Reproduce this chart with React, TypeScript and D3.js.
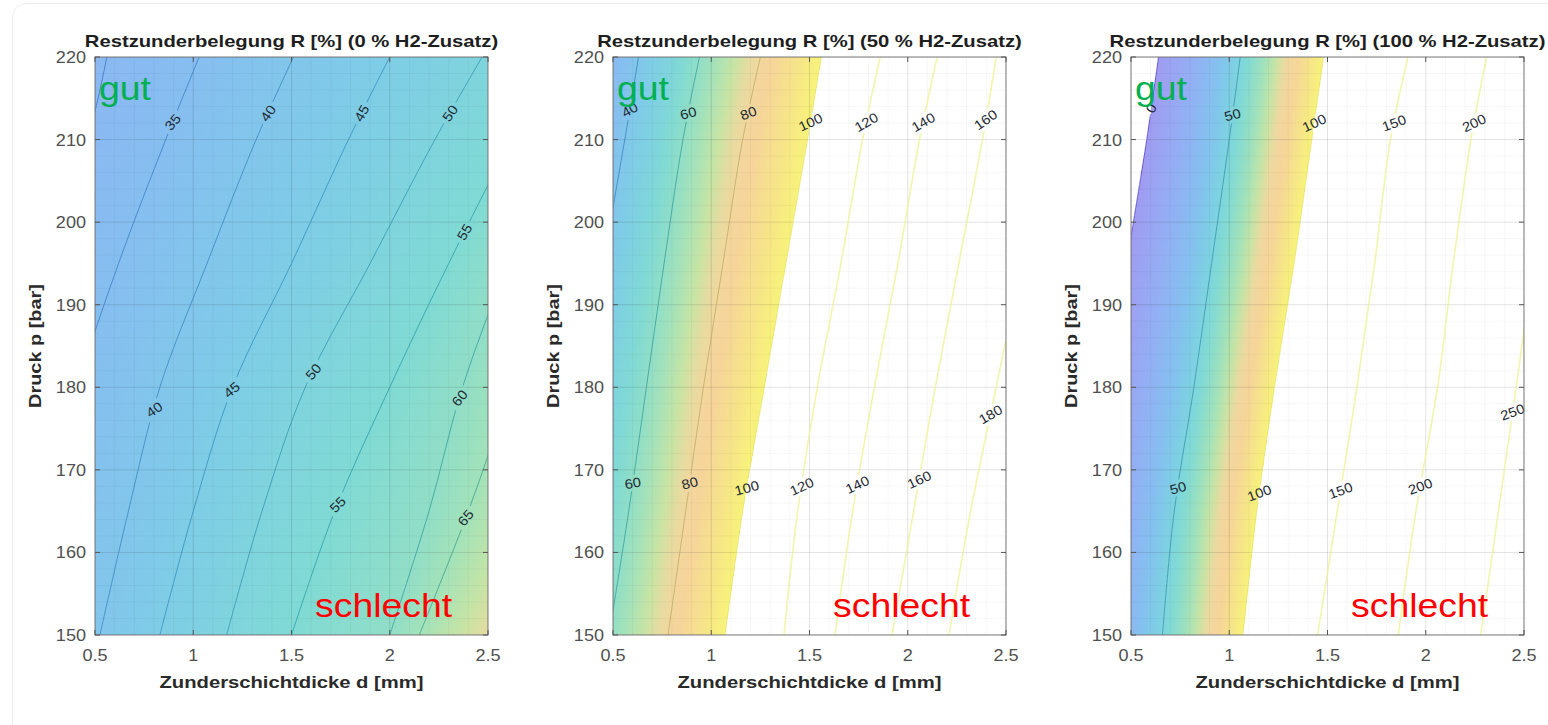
import React from "react";
import * as d3 from "d3";

const pressureSamples = [150, 165, 180, 195, 210, 220];
const thicknessTicks = [0.5, 1, 1.5, 2, 2.5];
const pressureTicks = [150, 160, 170, 180, 190, 200, 210, 220];

const titles = [
  "Restzunderbelegung R [%] (0 % H2-Zusatz)",
  "Restzunderbelegung R [%] (50 % H2-Zusatz)",
  "Restzunderbelegung R [%] (100 % H2-Zusatz)",
];

// 0 % H2: contour levels and thickness d [mm] of each level at pressureSamples
const levelsH0 = [30, 35, 40, 45, 50, 55, 60, 65];
const linesH0 = [
  [-0.5, -0.3, -0.05, 0.2, 0.46, 0.56],
  [0.1, 0.25, 0.41, 0.62, 0.86, 1.03],
  [0.525, 0.67, 0.83, 1.07, 1.32, 1.51],
  [0.83, 1.0, 1.2, 1.5, 1.79, 2.0],
  [1.17, 1.35, 1.57, 1.9, 2.23, 2.47],
  [1.5, 1.72, 2.0, 2.3, 2.62, 2.85],
  [2.0, 2.2, 2.37, 2.6, 2.85, 3.05],
  [2.15, 2.4, 2.62, 2.85, 3.1, 3.3],
];
// [level, pressure, angle]
const labelsH0 = [
  [35, 212.1, -50], [40, 213.2, -55], [45, 213.2, -60], [50, 213.2, -55], [55, 198.8, -60],
  [40, 177.3, -35], [45, 179.7, -40], [50, 181.9, -50], [55, 165.8, -45], [60, 178.7, -50], [65, 164.2, -50],
];

// 50 % H2
const levelsH50 = [40, 60, 80, 100, 120, 140, 160, 180];
const linesH50 = [
  [0.12, 0.23, 0.34, 0.45, 0.56, 0.63],
  [0.48, 0.58, 0.67, 0.76, 0.856, 0.94],
  [0.78, 0.87, 0.96, 1.06, 1.16, 1.25],
  [1.07, 1.16, 1.27, 1.38, 1.49, 1.56],
  [1.37, 1.44, 1.54, 1.66, 1.77, 1.86],
  [1.63, 1.72, 1.83, 1.95, 2.06, 2.15],
  [1.92, 2.03, 2.14, 2.26, 2.38, 2.45],
  [2.21, 2.32, 2.45, 2.58, 2.7, 2.78],
];
const labelsH50 = [
  [40, 213.6, -30], [60, 213.2, -15], [80, 213.2, -20], [100, 212.1, -25], [120, 212.1, -30], [140, 212.1, -30], [160, 212.4, -35],
  [60, 168.4, -10], [80, 168.4, -15], [100, 167.8, -15], [120, 168, -25], [140, 168.2, -25], [160, 168.8, -25], [180, 176.7, -30],
];

// 100 % H2
const levelsH100 = [0, 50, 100, 150, 200, 250];
const linesH100 = [
  [0.24, 0.32, 0.4, 0.48, 0.58, 0.64],
  [0.66, 0.72, 0.82, 0.91, 1.0, 1.056],
  [1.07, 1.14, 1.23, 1.33, 1.42, 1.48],
  [1.45, 1.55, 1.65, 1.74, 1.82, 1.91],
  [1.86, 1.95, 2.06, 2.14, 2.23, 2.31],
  [2.28, 2.37, 2.46, 2.55, 2.66, 2.75],
];
const labelsH100 = [
  [0, 213.8, -60], [50, 213, -15], [100, 212, -25], [150, 212, -20], [200, 212, -25],
  [50, 167.8, -15], [100, 167.2, -20], [150, 167.5, -20], [200, 168, -20], [250, 177, -20],
];

const panels = [
  { title: titles[0], levels: levelsH0, lines: linesH0, labels: labelsH0 },
  { title: titles[1], levels: levelsH50, lines: linesH50, labels: labelsH50 },
  { title: titles[2], levels: levelsH100, lines: linesH100, labels: labelsH100 },
];

const W = 1548;
const H = 725;
const FONT = "'Liberation Sans', Arial, Helvetica, sans-serif";
const plotLeft = [95, 613, 1131];
const plotW = 393;
const plotTop = 57;
const plotBottom = 635;
const ROW = 3;

const fillRamp = d3
  .scaleLinear<string>()
  .domain([0, 20, 35, 45, 55, 65, 72, 78, 84, 92, 100])
  .range(["#a09cf1", "#94aef4", "#86bef0", "#7ecde6", "#80dad4", "#a2e2ba", "#c8e4a4", "#f0d8a0", "#f6d49a", "#f6e38a", "#f7f37a"])
  .interpolate(d3.interpolateRgb)
  .clamp(true);

const lineRamp = d3
  .scaleLinear<string>()
  .domain([0, 30, 45, 55, 65, 75, 85, 100])
  .range(["#5a48c8", "#3a78c8", "#3a8fba", "#2f9eaa", "#3aa290", "#a0b060", "#d8aa6a", "#e8e470"])
  .interpolate(d3.interpolateRgb)
  .clamp(true);

// piecewise linear lookup, extrapolating with the end segments
function interpAt(xs: number[], ys: number[], v: number) {
  let i = 0;
  while (i < xs.length - 2 && v > xs[i + 1]) i++;
  const t = (v - xs[i]) / (xs[i + 1] - xs[i]);
  return ys[i] + t * (ys[i + 1] - ys[i]);
}

function Txt({ x, y, sx = 1.13, rot = 0, anchor = "middle", size = 16, weight = "normal", fill = "#4a4a4a", baseline, children }: any) {
  return (
    <text
      transform={`translate(${x},${y}) rotate(${rot}) scale(${sx},1)`}
      textAnchor={anchor}
      fontSize={size}
      fontWeight={weight}
      fill={fill}
      dominantBaseline={baseline}
    >
      {children}
    </text>
  );
}

function Panel({ idx, title, levels, lines, labels }: any) {
  const left = plotLeft[idx];
  const x = d3.scaleLinear().domain([0.5, 2.5]).range([left, left + plotW]);
  const y = d3.scaleLinear().domain([150, 220]).range([plotBottom, plotTop]);
  const clipId = `clip${idx}`;
  const maskId = `mask${idx}`;

  // colour rows: one horizontal gradient per strip of pressure
  const rows: { y: number; stops: { off: number; color: string }[] }[] = [];
  for (let py = plotTop; py < plotBottom; py += ROW) {
    const p = y.invert(py + ROW / 2);
    const ds = lines.map((l: number[]) => interpAt(pressureSamples, l, p));
    const valueAt = (d: number) => interpAt(ds, levels, d);
    const pts = [{ d: 0.5, v: valueAt(0.5) }];
    ds.forEach((dd: number, k: number) => {
      if (dd > 0.5 && dd < 2.5) pts.push({ d: dd, v: levels[k] });
    });
    pts.push({ d: 2.5, v: valueAt(2.5) });
    const stops: { off: number; color: string }[] = [];
    for (let k = 0; k < pts.length - 1; k++) {
      const a = pts[k];
      const b = pts[k + 1];
      const white = Math.min(a.v, b.v) >= 100 || Math.max(a.v, b.v) <= 0;
      const n = white ? 1 : Math.max(1, Math.ceil(Math.abs(b.v - a.v) / 4));
      for (let i = 0; i <= n; i++) {
        const t = i / n;
        const d = a.d + t * (b.d - a.d);
        const v = a.v + t * (b.v - a.v);
        stops.push({ off: (d - 0.5) / 2, color: white ? "#ffffff" : fillRamp(v) });
      }
    }
    rows.push({ y: py, stops });
  }

  const line = d3
    .line<[number, number]>()
    .x((d) => x(d[0]))
    .y((d) => y(d[1]))
    .curve(d3.curveCatmullRom.alpha(0.5));

  const labelSpots = labels.map(([level, p, angle]: number[]) => {
    const k = levels.indexOf(level);
    const d = interpAt(pressureSamples, lines[k], p);
    return { level, cx: x(d), cy: y(p), angle };
  });

  const minorX = d3.range(0.5, 2.5001, 0.1);
  const minorY = d3.range(150, 220.001, 2);
  const cx = left + plotW / 2;

  return (
    <g>
      <defs>
        <clipPath id={clipId}>
          <rect x={left} y={plotTop} width={plotW} height={plotBottom - plotTop} />
        </clipPath>
        <mask id={maskId} maskUnits="userSpaceOnUse" x={0} y={0} width={W} height={H}>
          <rect x={0} y={0} width={W} height={H} fill="white" />
          {labelSpots.map((s: any, i: number) => {
            const w = String(s.level).length * 9 + 6;
            return (
              <rect
                key={i}
                x={-w / 2}
                y={-8}
                width={w}
                height={16}
                fill="black"
                transform={`translate(${s.cx},${s.cy}) rotate(${s.angle})`}
              />
            );
          })}
        </mask>
        {rows.map((r, i) => (
          <linearGradient key={i} id={`g${idx}_${i}`} gradientUnits="userSpaceOnUse" x1={left} x2={left + plotW} y1={0} y2={0}>
            {r.stops.map((s, j) => (
              <stop key={j} offset={s.off} stopColor={s.color} />
            ))}
          </linearGradient>
        ))}
      </defs>

      <g clipPath={`url(#${clipId})`}>
        {rows.map((r, i) => (
          <rect key={i} x={left} y={r.y} width={plotW} height={ROW + 0.5} fill={`url(#g${idx}_${i})`} />
        ))}
        {minorX.map((d, i) => (
          <line key={`mx${i}`} x1={x(d)} x2={x(d)} y1={plotTop} y2={plotBottom} stroke="#000" strokeOpacity={0.035} />
        ))}
        {minorY.map((p, i) => (
          <line key={`my${i}`} x1={left} x2={left + plotW} y1={y(p)} y2={y(p)} stroke="#000" strokeOpacity={0.035} />
        ))}
        {thicknessTicks.map((d, i) => (
          <line key={`gx${i}`} x1={x(d)} x2={x(d)} y1={plotTop} y2={plotBottom} stroke="#000" strokeOpacity={0.08} />
        ))}
        {pressureTicks.map((p, i) => (
          <line key={`gy${i}`} x1={left} x2={left + plotW} y1={y(p)} y2={y(p)} stroke="#000" strokeOpacity={0.08} />
        ))}
        <g mask={`url(#${maskId})`}>
          {levels.map((level: number, k: number) => (
            <path
              key={k}
              d={line(pressureSamples.map((p, i) => [lines[k][i], p] as [number, number])) || ""}
              fill="none"
              stroke={level > 100 ? "#eef29a" : lineRamp(level)}
              strokeWidth={level > 100 ? 1.6 : 1}
              strokeOpacity={0.8}
            />
          ))}
        </g>
      </g>

      {labelSpots.map((s: any, i: number) => (
        <Txt key={i} x={s.cx} y={s.cy} rot={s.angle} sx={1.1} size={13.5} fill="#1f2a33" baseline="central">
          {s.level}
        </Txt>
      ))}

      <rect x={left} y={plotTop} width={plotW} height={plotBottom - plotTop} fill="none" stroke="#7a7a7a" />
      {thicknessTicks.map((d, i) => (
        <g key={`tx${i}`} stroke="#555">
          <line x1={x(d)} x2={x(d)} y1={plotBottom} y2={plotBottom - 5} />
          <line x1={x(d)} x2={x(d)} y1={plotTop} y2={plotTop + 5} />
        </g>
      ))}
      {pressureTicks.map((p, i) => (
        <g key={`ty${i}`} stroke="#555">
          <line x1={left} x2={left + 5} y1={y(p)} y2={y(p)} />
          <line x1={left + plotW} x2={left + plotW - 5} y1={y(p)} y2={y(p)} />
        </g>
      ))}
      {thicknessTicks.map((d, i) => (
        <Txt key={`lx${i}`} x={x(d)} y={661} fill="#505050">
          {String(d)}
        </Txt>
      ))}
      {pressureTicks.map((p, i) => (
        <Txt key={`ly${i}`} x={left - 9} y={y(p) + 6} anchor="end" fill="#505050">
          {String(p)}
        </Txt>
      ))}

      <Txt x={cx} y={47} size={17} weight="bold" sx={1.19} fill="#1e1e1e">
        {title}
      </Txt>
      <Txt x={cx} y={688} size={17} weight="bold" sx={1.19} fill="#2a2a2a">
        Zunderschichtdicke d [mm]
      </Txt>
      <Txt x={left - 54} y={(plotTop + plotBottom) / 2} rot={-90} size={17} weight="bold" sx={1.17} fill="#2a2a2a">
        Druck p [bar]
      </Txt>

      <Txt x={left + 4} y={100} anchor="start" size={34} sx={1.1} fill="#00b050">
        gut
      </Txt>
      <Txt x={left + 220} y={617} anchor="start" size={34} sx={1.1} fill="#ff0000">
        schlecht
      </Txt>
    </g>
  );
}

export default function App() {
  return (
    <svg
      width={W}
      height={H}
      style={{ position: "absolute", left: 0, top: 0, background: "#fff" }}
      fontFamily={FONT}
    >
      <rect x={12.5} y={3.5} width={1560} height={760} rx={14} fill="none" stroke="#ededed" />
      {panels.map((pn, i) => (
        <Panel key={i} idx={i} {...pn} />
      ))}
    </svg>
  );
}
